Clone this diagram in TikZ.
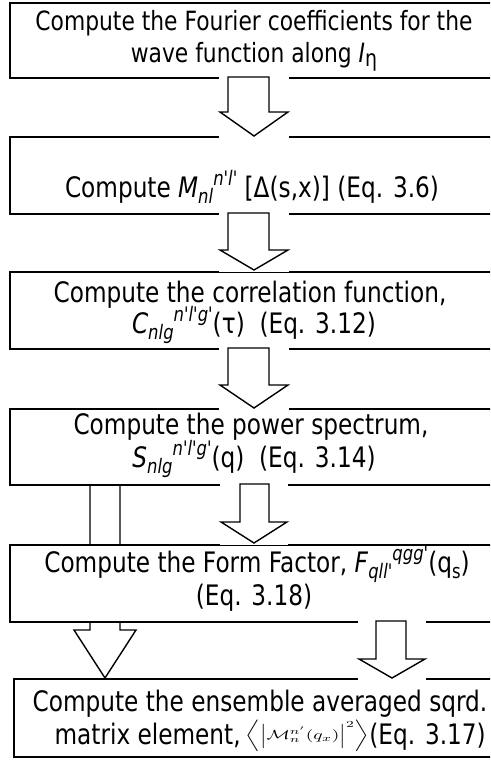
\documentclass[tikz,border=0pt]{standalone}
\usepackage[no-math]{fontspec}
\usepackage{graphicx}
\setmainfont{DejaVu Sans}[Ligatures=TeXOff, FakeStretch=0.823]
\newcommand{\mysub}[1]{\raisebox{-0.22em}{\fontsize{20}{20}\selectfont #1}}
\newcommand{\mysup}[1]{\raisebox{0.42em}{\fontsize{20}{20}\selectfont #1}}
\begin{document}
\begin{tikzpicture}[x=1pt,y=-1pt,
  box/.style={draw=black, line width=2pt, fill=white, inner sep=0pt, anchor=north west},
  blk/.style={draw=black, line width=1.4pt, fill=white, line join=miter},
  txt/.style={anchor=base, inner sep=0pt, font=\fontsize{26.5}{30}\selectfont},
  txtb/.style={anchor=base, inner sep=0pt, font=\fontsize{28.2}{32}\selectfont},
]
\clip (0,0) rectangle (490,760);
\fill[white] (0,0) rectangle (490,760);

% long arrow from box 4 to box 6, passing behind box 5
\draw[blk] (90,484) -- (90,630) -- (74,630) -- (105,678) -- (136,630) -- (120,630) -- (120,484);

% boxes
\node[box, minimum width=491pt, minimum height=75pt] (b1) at (9,2) {};
\node[box, minimum width=491pt, minimum height=77.5pt] (b2) at (9,135.5) {};
\node[box, minimum width=491pt, minimum height=77pt] (b3) at (9,271) {};
\node[box, minimum width=491pt, minimum height=76pt] (b4) at (9,408) {};
\node[box, minimum width=491pt, minimum height=77pt] (b5) at (9,544) {};
\node[box, minimum width=490pt, minimum height=78pt] (b6) at (13,678) {};

% block arrows
\fill[white] (219,75.5) rectangle (289,137.5);
\draw[blk] (228,77) -- (228,112) -- (220,112) -- (254,136) -- (288,112) -- (269,112) -- (269,77) -- cycle;
\fill[white] (219,211.5) rectangle (289,271.5);
\draw[blk] (228,213) -- (228,250) -- (220,250) -- (254,270) -- (288,250) -- (269,250) -- (269,213) -- cycle;
\fill[white] (219,346.5) rectangle (289,409.5);
\draw[blk] (228,348) -- (228,385) -- (220,385) -- (254,408) -- (288,385) -- (269,385) -- (269,348) -- cycle;
\fill[white] (220,482.5) rectangle (288,544.5);
\draw[blk] (240,484) -- (240,522) -- (221,522) -- (254,543) -- (287,522) -- (269,522) -- (269,484) -- cycle;
\fill[white] (358,619.5) rectangle (426,679.5);
\draw[blk] (376,621) -- (376,659) -- (359,659) -- (392,678) -- (425,659) -- (406,659) -- (406,621) -- cycle;

% texts
\node[txt] (t1a) at (254,31) {Compute the Fourier coefficients for the};
\node[txt] (t1b) at (254,63) {wave function along \textit{I}\raisebox{-4pt}{\fontsize{23}{23}\selectfont η}};
\node[txtb] (t2) at (252,197) {Compute \textit{M}\mysub{\textit{nl}}\mysup{\textit{n'l'}} [Δ(s,x)] (Eq. 3.6)};
\node[txtb] (t3a) at (250,302) {Compute the correlation function,};
\node[txtb] (t3b) at (254,333) {\textit{C}\mysub{\textit{nlg}}\mysup{\textit{n'l'g'}}(τ)~ (Eq. 3.12)};
\node[txtb] (t4a) at (251,434) {Compute the power spectrum,};
\node[txtb] (t4b) at (254,467) {\textit{S}\mysub{\textit{nlg}}\mysup{\textit{n'l'g'}}(q)~ (Eq. 3.14)};
\node[txtb] (t5a) at (257,572) {Compute the Form Factor, \textit{F}\mysub{\textit{qll'}}\mysup{\textit{qgg'}}(q\mysub{s})};
\node[txtb] (t5b) at (254,605) {(Eq. 3.18)};
\node[txtb] (t6a) at (260,711) {Compute the ensemble averaged sqrd.};
\node[txtb, anchor=base east] (t6b) at (486,744) {matrix element,\,\raisebox{4.5pt}{\scalebox{1.95}[1.32]{\fontsize{10}{12}\selectfont$\left\langle\left|\mathcal{M}_n^{n'}(q_x)\right|^2\right\rangle$}}(Eq. 3.17)};
\end{tikzpicture}
\end{document}
